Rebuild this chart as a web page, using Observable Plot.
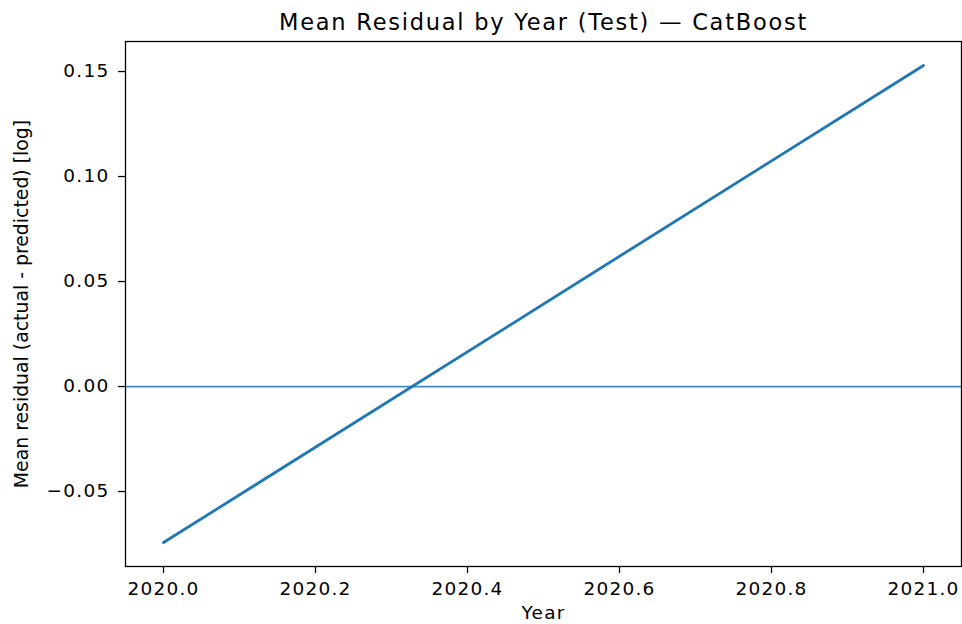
<!DOCTYPE html>
<html><head><meta charset="utf-8">
<script src="https://cdn.jsdelivr.net/npm/d3@7"></script>
<script src="https://cdn.jsdelivr.net/npm/@observablehq/plot@0.6"></script>
<style>body{margin:0;background:#fff} svg{font-family:"DejaVu Sans"}</style>
</head><body><div id="chart"></div>
<script>
const years = [2020, 2021];
const meanResidual = [-0.0743, 0.1529];
const xTicks = [2020.0, 2020.2, 2020.4, 2020.6, 2020.8, 2021.0];
const yTicks = [-0.05, 0, 0.05, 0.10, 0.15];
const title = "Mean Residual by Year (Test) — CatBoost";
const xLabel = "Year";
const yLabel = "Mean residual (actual - predicted) [log]";

const data = years.map((y, i) => ({year: y, res: meanResidual[i]}));
const fmtY = d => (d < 0 ? "\u2212" : "") + Math.abs(d).toFixed(2);

const chart = Plot.plot({
  width: 962, height: 624,
  marginLeft: 125, marginRight: 1, marginTop: 41, marginBottom: 58,
  style: {fontFamily: "DejaVu Sans", fontSize: "18.5px", color: "black", background: "white", overflow: "visible"},
  x: {domain: [2019.95, 2021.05]},
  y: {domain: [-0.0857, 0.1643]},
  marks: [
    Plot.ruleY([0], {stroke: "#1f77b4", strokeWidth: 1.8, strokeOpacity: 0.85}),
    Plot.line(data, {x: "year", y: "res", stroke: "#1f77b4", strokeWidth: 2.8}),
    Plot.frame({stroke: "black", strokeWidth: 1.3}),
    Plot.axisX(xTicks, {tickSize: 7, tickPadding: 8, strokeWidth: 1.3, tickFormat: d => d.toFixed(1), label: null, fontSize: 18.5}),
    Plot.axisY(yTicks, {tickSize: 7, tickPadding: 9, strokeWidth: 1.3, tickFormat: fmtY, label: null, fontSize: 18.5}),
    Plot.text([title], {frameAnchor: "top", dy: -19, lineAnchor: "middle", fontSize: 22.5, fill: "black"}),
    Plot.text([xLabel], {frameAnchor: "bottom", dy: 47, lineAnchor: "middle", fontSize: 18.5, fill: "black"}),
    Plot.text([yLabel], {frameAnchor: "left", dx: -104, rotate: -90, textAnchor: "middle", lineAnchor: "middle", fontSize: 18.85, fill: "black"})
  ]
});
const s = d3.select(chart);
s.selectAll('g[aria-label="x-axis tick label"] text, g[aria-label="y-axis tick label"] text').attr("letter-spacing", "1.25px");
s.selectAll("text").filter(function() { return this.textContent === title; }).attr("letter-spacing", "1.75px");
s.selectAll("text").filter(function() { return this.textContent === xLabel; }).attr("letter-spacing", "1.2px");
document.getElementById("chart").append(chart);
</script>
</body></html>
